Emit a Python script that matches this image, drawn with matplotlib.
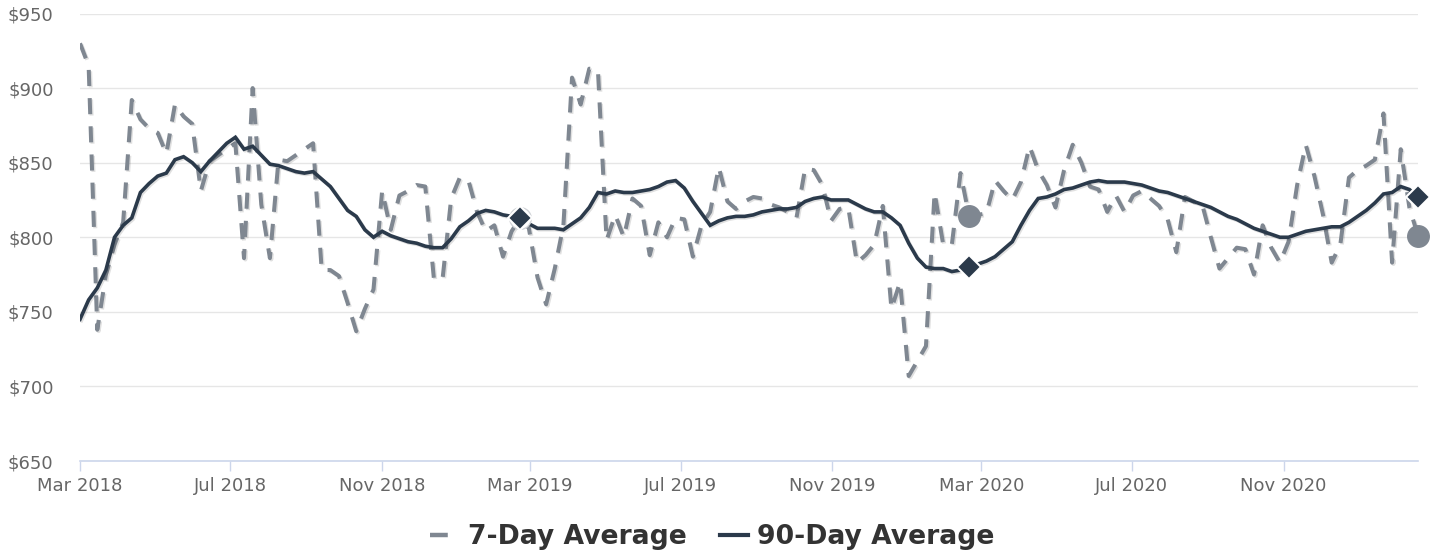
import matplotlib
matplotlib.use('Agg')
import matplotlib.pyplot as plt
import matplotlib.dates as mdates
import matplotlib.patheffects as pe
from matplotlib.lines import Line2D
import pandas as pd

# weekly readings, first week starting Mar 1 2018
dates = pd.date_range('2018-03-01', periods=156, freq='7D')

avg_7 = [
    930, 915, 738, 775, 795, 810, 892, 879, 873, 870,
    856, 889, 881, 876, 831, 851, 855, 859, 863, 786,
    900, 822, 786, 852, 851, 855, 859, 863, 778, 778,
    774, 756, 737, 752, 765, 831, 805, 828, 831, 835,
    834, 772, 772, 826, 840, 838, 817, 804, 808, 787,
    804, 813, 806, 773, 755, 779, 808, 907, 889, 913,
    912, 798, 815, 800, 826, 821, 788, 810, 800, 813,
    812, 787, 808, 817, 847, 824, 819, 824, 827, 826,
    822, 820, 817, 813, 846, 845, 835, 811, 819, 820,
    783, 788, 795, 821, 752, 770, 707, 717, 727, 830,
    795, 795, 843, 814, 815, 816, 838, 831, 825, 837,
    861, 845, 835, 820, 845, 862, 850, 834, 832, 817,
    828, 817, 828, 831, 826, 821, 812, 790, 827, 824,
    822, 800, 779, 786, 793, 792, 775, 808, 793, 783,
    797, 835, 862, 841, 815, 783, 795, 840, 845, 848,
    852, 883, 783, 859, 820, 801,
]

avg_90 = [
    745, 758, 766, 778, 800, 808, 813, 830, 836, 841,
    843, 852, 854, 850, 844, 851, 857, 863, 867, 859,
    861, 855, 849, 848, 846, 844, 843, 844, 839, 834,
    826, 818, 814, 805, 800, 804, 801, 799, 797, 796,
    794, 793, 793, 799, 807, 811, 816, 818, 817, 815,
    814, 813, 809, 806, 806, 806, 805, 809, 813, 820,
    830, 829, 831, 830, 830, 831, 832, 834, 837, 838,
    833, 824, 816, 808, 811, 813, 814, 814, 815, 817,
    818, 819, 819, 820, 824, 826, 827, 825, 825, 825,
    822, 819, 817, 817, 813, 808, 796, 786, 780, 779,
    779, 777, 778, 780, 782, 784, 787, 792, 797, 808,
    818, 826, 827, 829, 832, 833, 835, 837, 838, 837,
    837, 837, 836, 835, 833, 831, 830, 828, 826, 824,
    822, 820, 817, 814, 812, 809, 806, 804, 802, 800,
    800, 802, 804, 805, 806, 807, 807, 810, 814, 818,
    823, 829, 830, 834, 832, 827,
]

# highlighted weeks: about a year ago, about two years ago... and the latest one
marker_weeks = [51, 103, 155]
circle_faces = ['white', '#7f8791', '#7f8791']
circle_edges = ['#d0d3d7', '#7f8791', '#7f8791']

y_ticks = [650, 700, 750, 800, 850, 900, 950]

c_gray = '#7f8791'
c_navy = '#2b3a4b'
c_grid = '#e6e6e6'
c_axis = '#ccd6eb'
c_label = '#666666'

W, H = 1437, 554
fig = plt.figure(figsize=(W / 100, H / 100), dpi=100)
ax = fig.add_axes([80 / W, 93 / H, 1338 / W, 447.5 / H])

shadow = [pe.SimpleLineShadow(offset=(1, -1), shadow_color='#000000', alpha=0.12),
          pe.Normal()]

ax.plot(dates, avg_7, color=c_gray, lw=2.9, dashes=(4, 3), zorder=3,
        path_effects=shadow)
ax.plot(dates, avg_90, color=c_navy, lw=2.6, zorder=4,
        solid_joinstyle='miter', path_effects=shadow)

for k, w in enumerate(marker_weeks):
    ax.plot(dates[w], avg_7[w], 'o', ms=15.5, mfc=circle_faces[k],
            mec=circle_edges[k], mew=1, zorder=5, clip_on=False)
    ax.plot(dates[w], avg_90[w], 'D', ms=12.5, mfc=c_navy, mec='white',
            mew=1.5, zorder=6, clip_on=False)

ax.set_xlim(dates[0], dates[-1])
ax.set_ylim(650, 950)

ax.xaxis.set_major_locator(mdates.MonthLocator(bymonth=[3, 7, 11]))
ax.xaxis.set_major_formatter(mdates.DateFormatter('%b %Y'))
ax.set_yticks(y_ticks)
ax.set_yticklabels([f'${v}' for v in y_ticks])

ax.grid(axis='y', color=c_grid, lw=1.0)
ax.set_axisbelow(True)
for side in ['top', 'right', 'left']:
    ax.spines[side].set_visible(False)
ax.spines['bottom'].set_color(c_axis)
ax.spines['bottom'].set_linewidth(1.2)

ax.tick_params(axis='x', length=7.2, width=1, color=c_axis, pad=4,
               labelsize=13, labelcolor=c_label)
ax.tick_params(axis='y', length=0, pad=19, labelsize=13, labelcolor=c_label)

handles = [Line2D([], [], color=c_gray, lw=3.2, dashes=(4, 3)),
           Line2D([], [], color=c_navy, lw=3.0)]
leg = fig.legend(handles, ['7-Day Average', '90-Day Average'], loc='center',
                 bbox_to_anchor=(712.5 / W, 17 / H), ncol=2, frameon=False,
                 prop={'weight': 'bold', 'size': 19.2}, handlelength=1.05,
                 handletextpad=0.34, columnspacing=1.27, borderpad=0)
for t in leg.get_texts():
    t.set_color('#333333')

fig.savefig('out.png', dpi=100, facecolor='white')
